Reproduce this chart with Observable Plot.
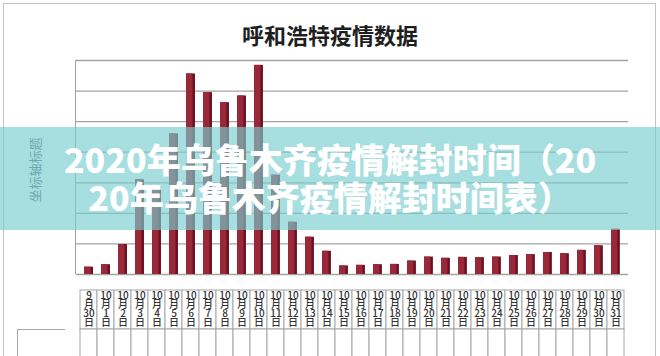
<!DOCTYPE html>
<html><head><meta charset="utf-8">
<script src="https://cdn.jsdelivr.net/npm/d3@7"></script>
<script src="https://cdn.jsdelivr.net/npm/@observablehq/plot@0.6"></script>
<style>
body{margin:0;}
#root{position:relative;width:660px;height:356px;overflow:hidden;background:#fff;font-family:"Noto Sans CJK SC",sans-serif;}
.abs{position:absolute;}
</style></head><body><div id="root">
<div class="abs" style="left:3px;top:3px;width:651px;height:420px;border:1px solid #c4c4c4;"></div>
<div class="abs" style="left:0;width:660px;top:19px;text-align:center;font-size:22px;font-weight:700;color:#1e1e1e;line-height:30px;">呼和浩特疫情数据</div>
<div id="chart" class="abs" style="left:0;top:0;"></div>
<div class="abs" style="left:75px;top:60px;width:0;height:214px;border-left:1px solid #a0a0a0;"></div>
<div class="abs" style="left:34px;top:170px;transform:translate(-50%,-50%) rotate(-90deg);font-size:13px;color:#5b6670;white-space:nowrap;">坐标轴标题</div>
<div id="table" class="abs" style="left:0;top:280px;"></div>
<div class="abs" style="left:17px;top:329px;width:47px;height:40px;border:1px solid #a6a6a6;border-right:none;"></div>
<div class="abs" style="left:0;top:127px;width:660px;height:103px;background:rgba(120,205,207,0.65);color:#fff;font-weight:900;font-size:34px;line-height:38px;text-align:center;padding-top:13px;box-sizing:border-box;">
<div style="white-space:nowrap;">2020年乌鲁木齐疫情解封时间（20</div>
<div style="white-space:nowrap;">20年乌鲁木齐疫情解封时间表）</div>
</div>
</div>
<script>
// category labels of the data table (33 columns)
const dateLabels = ["9月30日","10月1日","10月2日","10月3日","10月4日","10月5日","10月6日","10月7日","10月8日","10月9日","10月10日","10月11日","10月12日","10月13日","10月14日","10月15日","10月16日","10月17日","10月18日","10月19日","10月20日","10月21日","10月22日","10月23日","10月24日","10月25日","10月26日","10月27日","10月28日","10月29日","10月30日","10月31日"];
// bar values (32 visible bars), gridline step = 100
const barValues = [24, 32, 98, 310, 290, 460, 656, 595, 562, 584, 684, 325, 171, 122, 76, 28, 30, 32, 33, 44, 57, 53, 56, 55, 57, 62, 65, 72, 68, 79, 94, 148];
const yGrid = [0, 100, 200, 300, 400, 500, 600, 700];

const barDates = dateLabels.slice(0, barValues.length);
const bars = barValues.map((v, i) => ({date: barDates[i], value: v}));

const chart = Plot.plot({
  width: 660, height: 280,
  marginLeft: 76, marginRight: 32, marginTop: 60, marginBottom: 6,
  x: {type: "band", domain: barDates, padding: 0.48, axis: null},
  y: {domain: [0, 700], axis: null},
  style: {background: "transparent"},
  marks: [
    Plot.ruleY(yGrid, {stroke: "#a3a3a3", strokeWidth: 1.3}),
    Plot.barY(bars, {x: "date", y: "value", fill: "#6a1222"}),
    Plot.barY(bars, {x: "date", y: "value", fill: "#9b2839", insetRight: 2.5})
  ]
});
document.getElementById("chart").appendChild(chart);

const cells = dateLabels.flatMap(d => [{d, r: "head"}, {d, r: "series"}]);
const table = Plot.plot({
  width: 660, height: 90,
  marginLeft: 65, marginRight: 22, marginTop: 10, marginBottom: 0,
  x: {type: "band", domain: dateLabels, padding: 0, axis: null},
  y: {type: "band", domain: ["head", "series"], range: [10, 88], padding: 0, axis: null},
  style: {background: "transparent", fontFamily: "Noto Sans CJK SC, sans-serif"},
  marks: [
    Plot.cell(cells, {x: "d", y: "r", fill: "white", stroke: "#a6a6a6", strokeWidth: 1}),
    Plot.text(dateLabels, {
      x: d => d, y: () => "head",
      text: d => d.replace(/(\d+)月(\d+)日/, "$1\n月\n$2\n日"),
      fontSize: 10, lineHeight: 0.9, fill: "#333", fontWeight: 500
    })
  ]
});
document.getElementById("table").appendChild(table);
</script>
</body></html>
